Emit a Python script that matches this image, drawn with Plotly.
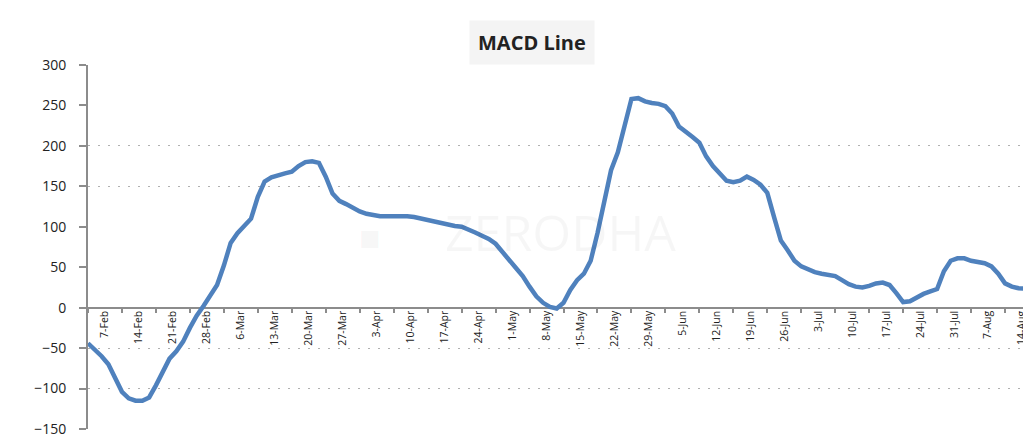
import plotly.graph_objects as go

# Daily MACD values (trading days, Feb-Aug 2012)
macd = [
    -44, -52, -60, -70, -88, -104, -112, -115, -115, -111,
    -96, -80, -63, -54, -42, -25, -10, 2, 15, 28,
    52, 80, 92, 101, 110, 137, 156, 161, 164, 166,
    168, 175, 180, 181, 179, 162, 141, 132, 128, 123,
    119, 116, 114, 113, 113, 113, 114, 113, 112, 110,
    108, 107, 105, 103, 101, 100, 97, 93, 89, 85,
    79, 70, 59, 49, 39, 26, 14, 6, 1, -1,
    6, 22, 34, 42, 58, 92, 133, 170, 192, 226,
    258, 259, 255, 253, 252, 249, 240, 224, 218, 211,
    204, 187, 175, 165, 157, 155, 157, 162, 158, 152,
    142, 112, 83, 71, 58, 51, 47, 44, 42, 40,
    39, 34, 29, 26, 25, 27, 30, 31, 28, 18,
    7, 8, 13, 17, 20, 23, 45, 58, 61, 61,
    58, 56, 55, 51, 42, 30, 26, 24, 23, 23, 22,
]
day_index = list(range(len(macd)))

# Weekly category labels (every 5 trading days)
tick_dates = [
    "7-Feb", "14-Feb", "21-Feb", "28-Feb",
    "6-Mar", "13-Mar", "20-Mar", "27-Mar",
    "3-Apr", "10-Apr", "17-Apr", "24-Apr",
    "1-May", "8-May", "15-May", "22-May", "29-May",
    "5-Jun", "12-Jun", "19-Jun", "26-Jun",
    "3-Jul", "10-Jul", "17-Jul", "24-Jul", "31-Jul",
    "7-Aug", "14-Aug",
]
y_ticks = [-150, -100, -50, 0, 50, 100, 150, 200, 250, 300]
grid_levels = [-100, -50, 150, 200]

DAYS_PER_LABEL = 5
label_pos = [DAYS_PER_LABEL * i + DAYS_PER_LABEL / 2 for i in range(len(tick_dates))]
tick_pos = [DAYS_PER_LABEL * i for i in range(len(tick_dates) + 1)]

X_RANGE = [0, 140]
Y_RANGE = [-150, 300]
zero_pos = (0 - Y_RANGE[0]) / (Y_RANGE[1] - Y_RANGE[0])

FONT = "Open Sans, Liberation Sans, sans-serif"
AXIS_GREY = "#8c8c8c"

fig = go.Figure()
# invisible trace holding the main subplot (labels + grid)
fig.add_trace(go.Scatter(x=day_index, y=macd, mode="lines",
                         line=dict(color="rgba(0,0,0,0)", width=0),
                         hoverinfo="skip", showlegend=False))
# visible MACD line
fig.add_trace(go.Scatter(x=day_index, y=macd, xaxis="x2", yaxis="y2", mode="lines",
                         line=dict(color="#4F81BD", width=4.5),
                         hoverinfo="skip", showlegend=False))

fig.update_layout(
    width=1031, height=440,
    margin=dict(l=80, r=0, t=57, b=19),
    paper_bgcolor="white", plot_bgcolor="white",
    showlegend=False,
    xaxis=dict(range=X_RANGE, anchor="free", position=zero_pos,
               tickmode="array", tickvals=label_pos, ticktext=tick_dates,
               tickangle=-90, ticks="", showline=False, showgrid=False, zeroline=False,
               ticklabeloverflow="allow",
               tickfont=dict(family=FONT, size=10.5, color="#222")),
    yaxis=dict(range=Y_RANGE, tickmode="array", tickvals=grid_levels,
               showticklabels=False, ticks="", showline=False, zeroline=False,
               showgrid=True, gridcolor="#b0b0b0", gridwidth=1.2, griddash="2px,8px"),
    xaxis2=dict(range=X_RANGE, overlaying="x", anchor="free", position=zero_pos,
                tickmode="array", tickvals=tick_pos, ticks="outside", ticklen=4,
                tickcolor=AXIS_GREY, tickwidth=1.5, showticklabels=False,
                showline=True, linecolor=AXIS_GREY, linewidth=2,
                showgrid=False, zeroline=False, layer="below traces"),
    yaxis2=dict(range=Y_RANGE, overlaying="y", side="left", anchor="x2",
                tickmode="array", tickvals=y_ticks, ticks="outside", ticklen=7,
                tickcolor=AXIS_GREY, tickwidth=1.5, ticklabelstandoff=10,
                showline=True, linecolor=AXIS_GREY, linewidth=2,
                showgrid=False, zeroline=False,
                tickfont=dict(family=FONT, size=14, color="#222")),
    annotations=[
        dict(text="<b>MACD Line</b>", xref="paper", yref="paper",
             x=0.4674, y=1.062, xanchor="center", yanchor="middle", showarrow=False,
             font=dict(family=FONT, size=20, color="#222"),
             bgcolor="#f4f4f4", borderpad=8),
        dict(text="ZERODHA", xref="paper", yref="paper",
             x=0.497, y=0.54, xanchor="center", yanchor="middle", showarrow=False,
             font=dict(family=FONT, size=50, color="rgba(0,0,0,0.035)")),
        dict(text="■", xref="paper", yref="paper",
             x=0.297, y=0.53, xanchor="center", yanchor="middle", showarrow=False,
             font=dict(family=FONT, size=36, color="rgba(0,0,0,0.035)")),
    ],
)

fig.write_html("out.html")
